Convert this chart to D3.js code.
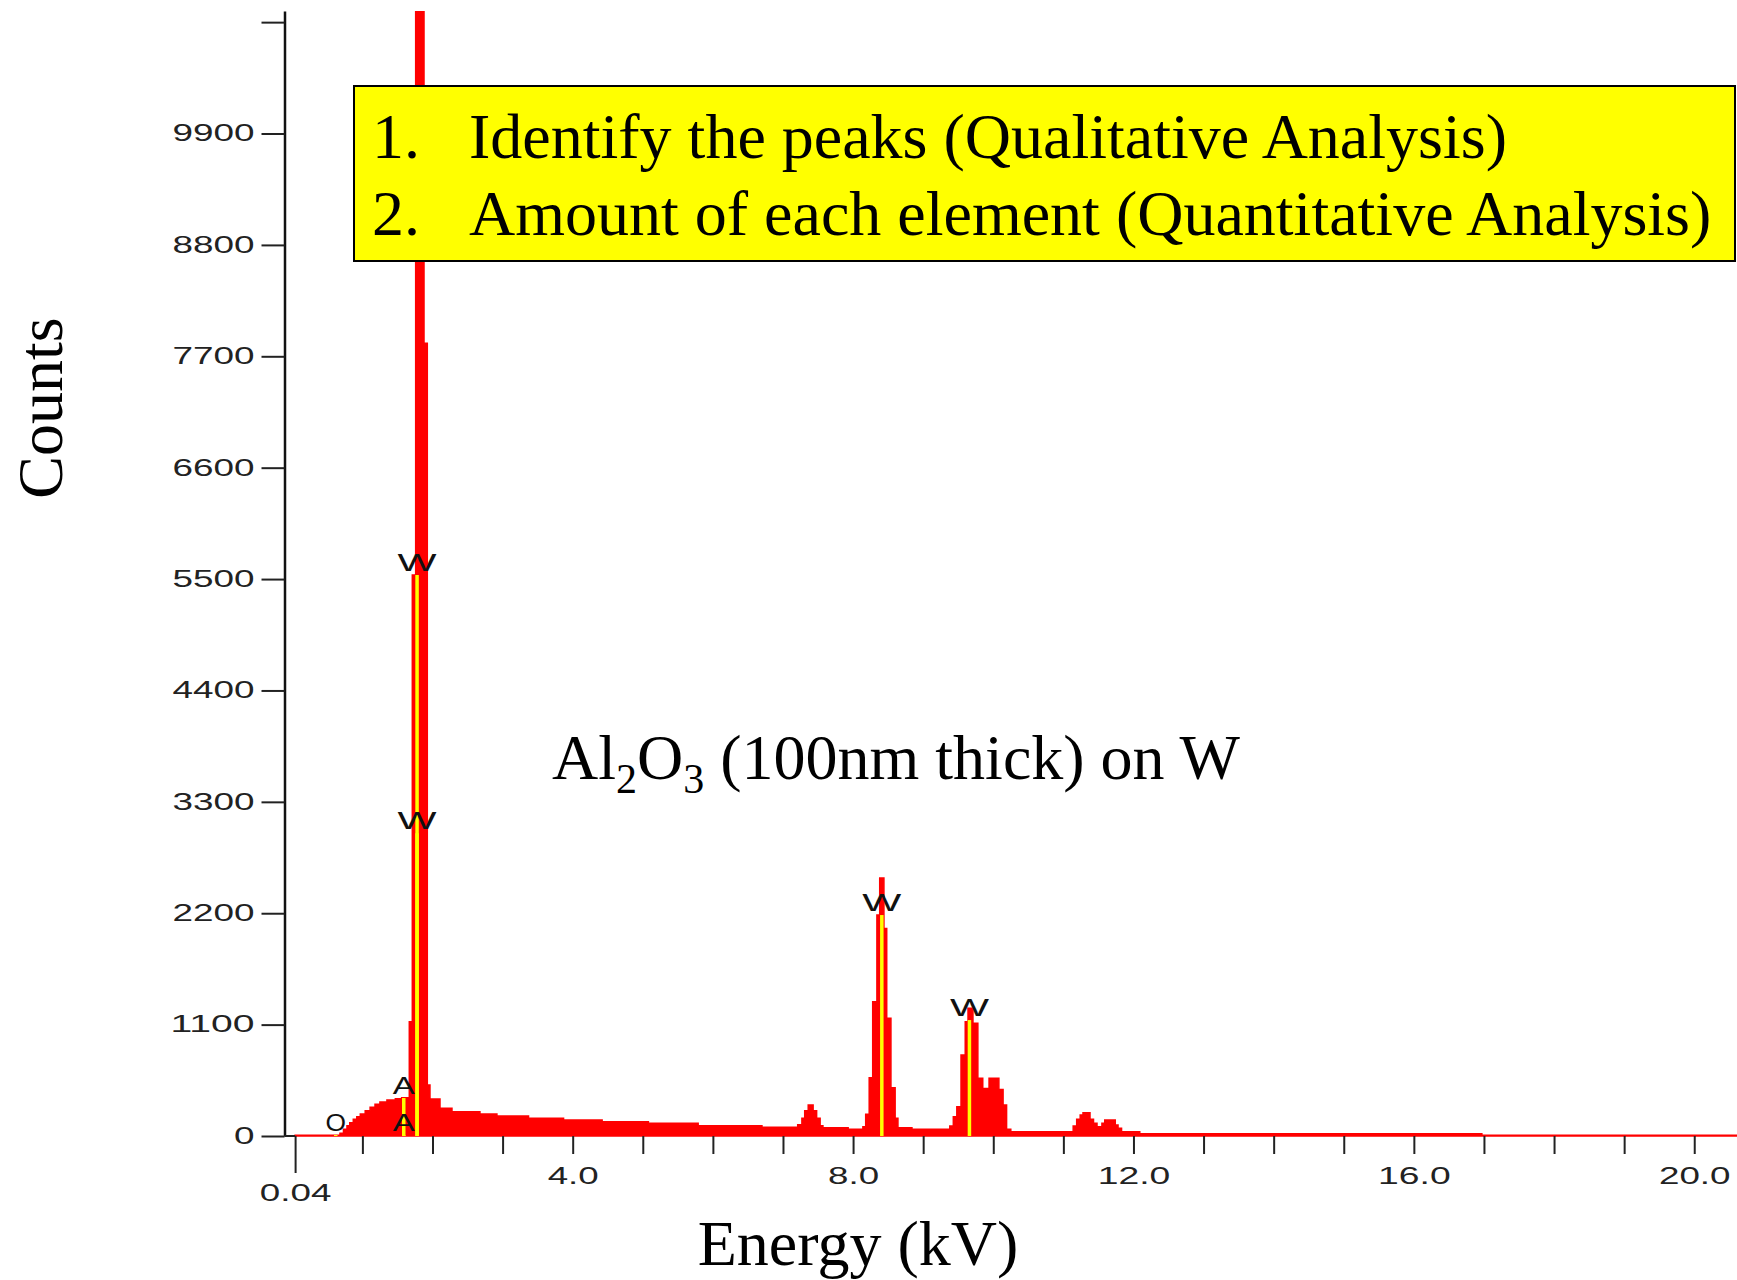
<!DOCTYPE html>
<html>
<head>
<meta charset="utf-8">
<script src="https://cdn.jsdelivr.net/npm/d3@7"></script>
<style>
body { margin: 0; background: #fff; }
.tickLabel { font-family: "Liberation Sans", Arial, sans-serif; font-size: 23px; fill: #222; }
.markerLabel { font-family: "Liberation Sans", Arial, sans-serif; font-size: 24px; fill: #111; }
.slideText { font-family: "Liberation Serif", "Times New Roman", serif; font-size: 64px; fill: #000; }
</style>
</head>
<body>
<svg id="chart" width="1737" height="1280"></svg>
<script>
// spectrum as steps: start energy of each step (kV) and its counts
var channelEnergy = [0.04, 0.68, 0.73, 0.78, 0.82, 0.87, 0.92, 0.97, 1.04, 1.11, 1.18, 1.25, 1.35, 1.47, 1.56,
    1.669, 1.712, 1.760, 1.879, 1.926, 1.964, 2.107, 2.278, 2.677, 2.919, 3.37, 3.87, 4.42, 5.08, 5.79, 6.70,
    7.21, 7.27, 7.31, 7.36, 7.43, 7.48, 7.53, 7.57, 7.93,
    8.14, 8.18, 8.23, 8.28, 8.34, 8.38, 8.44, 8.48, 8.54, 8.60, 8.64, 8.84,
    9.38, 9.43, 9.48, 9.54, 9.60, 9.64, 9.71, 9.78, 9.85, 9.94, 10.08, 10.14, 10.19, 10.25,
    11.14, 11.19, 11.24, 11.28, 11.38, 11.43, 11.48, 11.55, 11.59, 11.74, 11.78, 11.83, 12.09, 16.97];
var channelCounts = [8, 26, 66, 102, 132, 165, 191, 217, 250, 283, 313, 336, 355, 368, 378,
    1128, 5540, 15000, 7830, 503, 365, 273, 240, 217, 197, 175, 158, 141, 125, 102, 86,
    110, 175, 250, 306, 250, 175, 102, 82, 66,
    92, 214, 576, 1326, 2182, 2547, 2050, 1162, 477, 175, 82, 66,
    99, 191, 290, 800, 1128, 1261, 1113, 570, 470, 570, 460, 306, 66, 43,
    99, 165, 207, 230, 165, 125, 92, 125, 158, 109, 76, 43, 22, 8];
var spectrumEnd = 20.61;

var yTicks = [0, 1100, 2200, 3300, 4400, 5500, 6600, 7700, 8800, 9900, 11000];
var yTickLabels = ["0", "1100", "2200", "3300", "4400", "5500", "6600", "7700", "8800", "9900", ""];
var xTicks = [0.04, 1, 2, 3, 4, 5, 6, 7, 8, 9, 10, 11, 12, 13, 14, 15, 16, 17, 18, 19, 20];
var xLabelValues = [0.04, 4, 8, 12, 16, 20];
var xLabelTexts = ["0.04", "4.0", "8.0", "12.0", "16.0", "20.0"];

// element markers
var markerNames = ["O", "A", "A", "W", "W", "W", "W"];
var markerEnergy = [0.62, 1.59, 1.59, 1.78, 1.78, 8.41, 9.66];
var markerHeight = [10, 375, 10, 5540, 2990, 2182, 1145];

var dims = {left: 292.3, right: 1737, top: 11, bottom: 1136, axisX: 284.5};

var x = d3.scaleLinear().domain([0, spectrumEnd]).range([dims.left, dims.right]);
var y = d3.scaleLinear().domain([0, 11110]).range([dims.bottom, dims.top]);

var svg = d3.select("#chart");

// width of the blocky EDS font, per character
function pixelWidth(str) {
    var w = 0;
    for (var i = 0; i < str.length; i++) {
        var ch = str[i];
        w += ch === "." ? 10 : ch === "W" ? 39 : ch === "A" ? 22 : ch === "1" ? 21.5 : 20.5;
    }
    return w;
}

function stretch(sel) {
    sel.each(function() {
        var t = d3.select(this).text();
        if (t) d3.select(this).attr("textLength", pixelWidth(t)).attr("lengthAdjust", "spacingAndGlyphs");
    });
}

svg.append("defs").append("clipPath").attr("id", "plotClip")
    .append("rect")
    .attr("x", dims.axisX).attr("y", dims.top)
    .attr("width", dims.right - dims.axisX).attr("height", dims.bottom - dims.top + 4);

var spectrum = channelEnergy.map(function(e, i) { return {e: e, c: channelCounts[i]}; });
spectrum.push({e: spectrumEnd, c: channelCounts[channelCounts.length - 1]});

var area = d3.area()
    .curve(d3.curveStepAfter)
    .x(function(d) { return x(d.e); })
    .y0(y(0))
    .y1(function(d) { return y(d.c); });

svg.append("path")
    .datum(spectrum)
    .attr("clip-path", "url(#plotClip)")
    .attr("d", area)
    .attr("fill", "#ff0000")
    .attr("stroke", "#ff0000")
    .attr("stroke-width", 1.5);

// marker lines
var markers = markerNames.map(function(n, i) { return {name: n, e: markerEnergy[i], h: markerHeight[i]}; });

svg.selectAll(".markerLine")
    .data(markers)
    .enter()
    .append("line")
    .attr("class", "markerLine")
    .attr("x1", function(d) { return x(d.e); })
    .attr("x2", function(d) { return x(d.e); })
    .attr("y1", y(0))
    .attr("y2", function(d) { return y(d.h); })
    .attr("stroke", "#ffff00")
    .attr("stroke-width", 3.5);

svg.selectAll(".markerLabel")
    .data(markers)
    .enter()
    .append("text")
    .attr("class", "markerLabel")
    .attr("x", function(d) { return x(d.e); })
    .attr("y", function(d) { return y(d.h) - 4; })
    .attr("text-anchor", "middle")
    .text(function(d) { return d.name; })
    .call(stretch);

// y axis
var yAxis = svg.append("g")
    .attr("transform", "translate(" + dims.axisX + ",0)")
    .call(d3.axisLeft(y)
        .tickValues(yTicks)
        .tickSize(23)
        .tickSizeOuter(0)
        .tickPadding(7)
        .tickFormat(function(d, i) { return yTickLabels[i]; }));
yAxis.select(".domain").attr("stroke", "#111").attr("stroke-width", 2.5);
yAxis.selectAll(".tick line").attr("stroke", "#222").attr("stroke-width", 2);
yAxis.selectAll(".tick text").attr("class", "tickLabel").attr("font-size", null).attr("font-family", null).attr("fill", null).call(stretch);

// short base line from the axis to the first channel
svg.append("line")
    .attr("x1", dims.axisX).attr("x2", x(xTicks[0]))
    .attr("y1", y(0)).attr("y2", y(0))
    .attr("stroke", "#222").attr("stroke-width", 2);

// x axis (ticks hang below the spectrum base)
var xAxis = svg.append("g")
    .attr("transform", "translate(0," + y(0) + ")")
    .call(d3.axisBottom(x)
        .tickValues(xTicks)
        .tickSize(18)
        .tickPadding(14)
        .tickFormat(function(d) {
            var i = xLabelValues.indexOf(d);
            return i < 0 ? "" : xLabelTexts[i];
        }));
xAxis.select(".domain").remove();
xAxis.selectAll(".tick line").attr("stroke", "#222").attr("stroke-width", 2);
xAxis.selectAll(".tick text").attr("class", "tickLabel").attr("font-size", null).attr("font-family", null).attr("fill", null).call(stretch);
xAxis.selectAll(".tick").filter(function(d) { return d === xTicks[0]; })
    .call(function(t) {
        t.select("line").attr("y2", 37);
        t.select("text").attr("y", 49);
    });

// axis titles
svg.append("text")
    .attr("class", "slideText")
    .attr("transform", "translate(62,408) rotate(-90)")
    .attr("text-anchor", "middle")
    .text("Counts");

svg.append("text")
    .attr("class", "slideText")
    .attr("x", 858)
    .attr("y", 1265)
    .attr("text-anchor", "middle")
    .text("Energy (kV)");

// sample annotation
var sample = svg.append("text")
    .attr("class", "slideText")
    .attr("x", 552)
    .attr("y", 779);
sample.append("tspan").text("Al");
sample.append("tspan").attr("font-size", 42).attr("dy", 14).text("2");
sample.append("tspan").attr("dy", -14).text("O");
sample.append("tspan").attr("font-size", 42).attr("dy", 14).text("3");
sample.append("tspan").attr("dy", -14).text(" (100nm thick) on W");

// yellow note box
var noteLines = ["Identify the peaks (Qualitative Analysis)", "Amount of each element (Quantitative Analysis)"];

svg.append("rect")
    .attr("x", 354).attr("y", 86)
    .attr("width", 1381).attr("height", 175)
    .attr("fill", "#ffff00")
    .attr("stroke", "#000")
    .attr("stroke-width", 2);

noteLines.forEach(function(line, i) {
    svg.append("text").attr("class", "slideText")
        .attr("x", 372).attr("y", 158 + i * 77)
        .text((i + 1) + ".");
    svg.append("text").attr("class", "slideText")
        .attr("x", 469).attr("y", 158 + i * 77)
        .text(line);
});
</script>
</body>
</html>
